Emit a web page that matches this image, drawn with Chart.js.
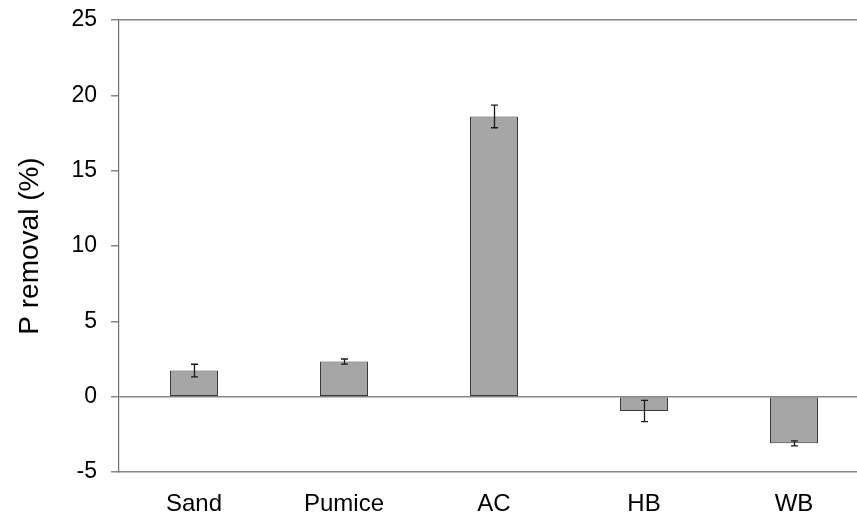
<!DOCTYPE html>
<html>
<head>
<meta charset="utf-8">
<script src="https://cdn.jsdelivr.net/npm/chart.js@4"></script>
<style>
  html, body { margin: 0; padding: 0; background: #fff; overflow: hidden; }
  #wrap { width: 880px; height: 514px; position: relative; }
</style>
</head>
<body>
<div id="wrap"><canvas id="chart"></canvas></div>
<script>
/* ---- data ---- */
const CATEGORIES = ['Sand', 'Pumice', 'AC', 'HB', 'WB'];
const REMOVAL    = [1.73, 2.33, 18.6, -0.95, -3.1];
const ERRORS     = [0.42, 0.17, 0.75, 0.7, 0.17];

const Y_MIN = -5, Y_MAX = 25, Y_STEP = 5;

const FONT = "'Liberation Sans', Arial, sans-serif";
const LINE = '#868686';

/* error bars drawn from the data through the chart scales */
const errorBars = {
  id: 'errorBars',
  afterDatasetsDraw(chart) {
    const x = chart.scales.x, y = chart.scales.y;
    const ctx = chart.ctx;
    ctx.save();
    ctx.strokeStyle = '#1a1a1a';
    ctx.lineWidth = 1.3;
    REMOVAL.forEach((v, i) => {
      const px = Math.round(x.getPixelForValue(i)) + 0.5;
      const hi = y.getPixelForValue(v + ERRORS[i]);
      const lo = y.getPixelForValue(v - ERRORS[i]);
      ctx.beginPath();
      ctx.moveTo(px, hi); ctx.lineTo(px, lo);
      ctx.moveTo(px - 3.5, hi); ctx.lineTo(px + 3.5, hi);
      ctx.moveTo(px - 3.5, lo); ctx.lineTo(px + 3.5, lo);
      ctx.stroke();
    });
    ctx.restore();
  }
};

new Chart(document.getElementById('chart'), {
  type: 'bar',
  data: {
    labels: CATEGORIES,
    datasets: [{
      data: REMOVAL,
      backgroundColor: '#a6a6a6',
      borderColor: '#3a3a3a',
      borderWidth: 1,
      borderSkipped: false,
      categoryPercentage: 1,
      barPercentage: 0.32
    }]
  },
  options: {
    responsive: true,
    maintainAspectRatio: false,
    animation: false,
    layout: { padding: { top: 20, right: 11, left: 0, bottom: 0 } },
    plugins: {
      legend: { display: false },
      tooltip: { enabled: false }
    },
    scales: {
      x: {
        afterFit: s => { s.height = 42; },
        grid: { display: false, drawTicks: false },
        border: { display: true, color: LINE, width: 1.5 },
        ticks: { color: '#000', padding: 18, font: { family: FONT, size: 24 } }
      },
      y: {
        min: Y_MIN,
        max: Y_MAX,
        // fixed axis width; label overhang must not push the plot down
        afterFit: s => { s.width = 119; s.paddingTop = 0; s.paddingBottom = 0; },
        ticks: { stepSize: Y_STEP, color: '#000', padding: 14, font: { family: FONT, size: 23 } },
        grid: {
          color: c => (c.tick && (c.tick.value === 0 || c.tick.value === Y_MAX)) ? LINE : 'transparent',
          lineWidth: 1.5,
          tickColor: LINE,
          tickLength: 8,
          drawTicks: true
        },
        border: { display: true, color: '#6e6e6e', width: 1.2 },
        title: {
          display: true,
          text: 'P removal (%)',
          color: '#000',
          font: { family: FONT, size: 28 },
          padding: { top: 13, bottom: 0 }
        }
      }
    }
  },
  plugins: [errorBars]
});
</script>
</body>
</html>
